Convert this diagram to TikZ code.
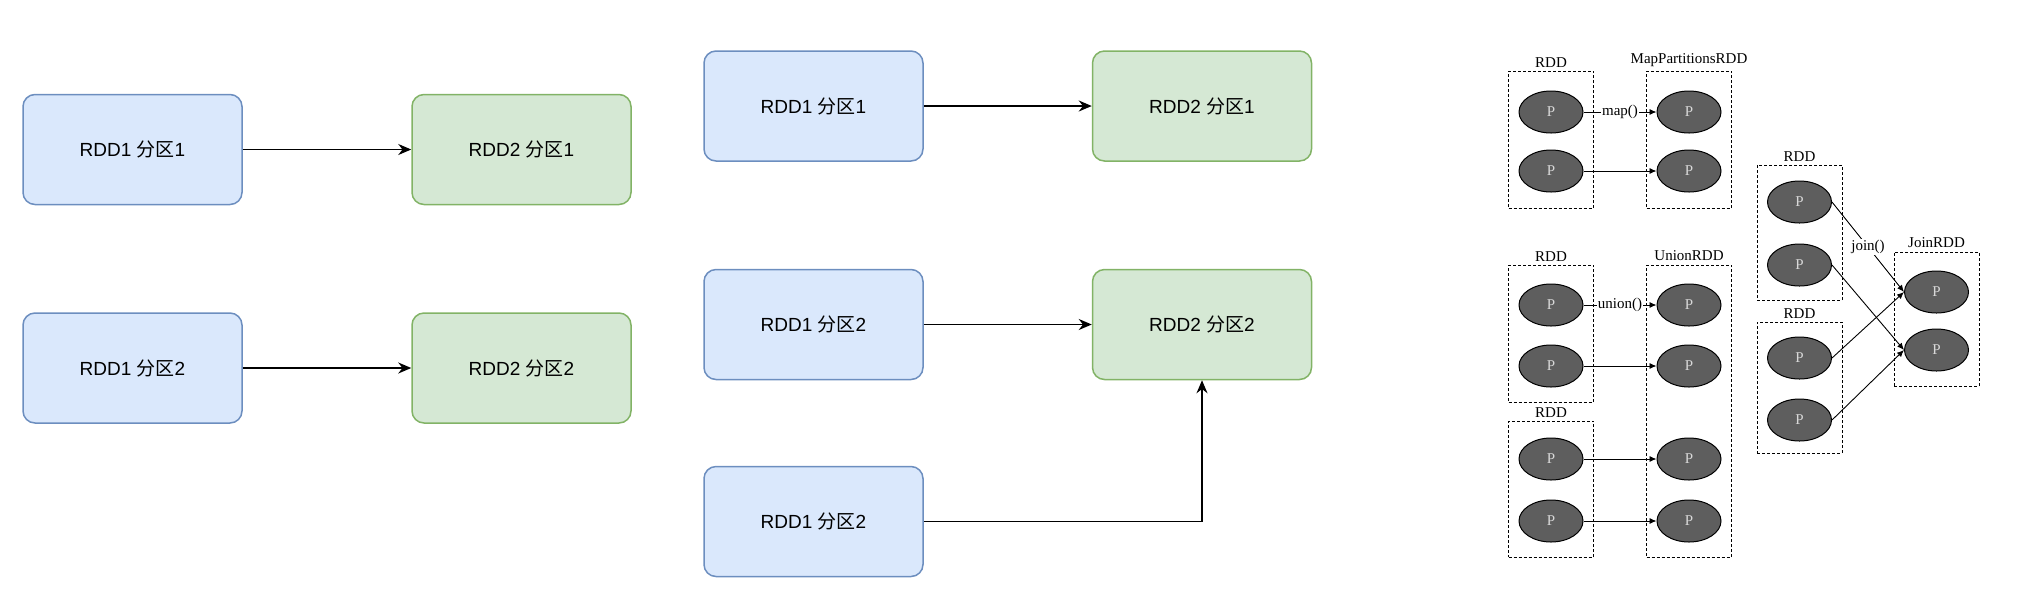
\documentclass[tikz,border=0pt]{standalone}
\usepackage{fontspec}
\setmainfont{Liberation Serif}
\newfontfamily\boxfont{Liberation Sans}
\newfontfamily\cjk{Noto Sans CJK SC}
\usetikzlibrary{arrows.meta,shapes.geometric}
\definecolor{bluefill}{HTML}{DAE8FC}
\definecolor{blueline}{HTML}{6C8EBF}
\definecolor{greenfill}{HTML}{D5E8D4}
\definecolor{greenline}{HTML}{82B366}
\definecolor{pgray}{HTML}{5E5E5E}
\definecolor{plight}{HTML}{D8D8D8}
\newcommand{\fenqu}[2]{#1 {\cjk 分区}#2}

\begin{document}
\begin{tikzpicture}[x=0.5pt,y=-0.5pt,
    src/.style={draw=blueline,fill=bluefill,line width=0.75pt,rounded corners=6pt,
      minimum width=109.5pt,minimum height=55pt,
      font=\boxfont\fontsize{9.5}{11}\selectfont},
    dst/.style={src,draw=greenline,fill=greenfill},
    flow/.style={-{Stealth[length=6.5pt,width=5.5pt]},line width=0.75pt},
    rddbox/.style={draw,dash pattern=on 1.5pt off 1pt,line width=0.5pt,
      minimum width=42.5pt,inner sep=0pt,
      label={[font=\fontsize{7.5}{8}\selectfont,inner sep=1.5pt]above:#1}},
    pnode/.style={ellipse,draw,fill=pgray,line width=0.5pt,minimum width=32pt,
      minimum height=21pt,inner sep=0pt,text=plight,font=\fontsize{7.5}{8}\selectfont},
    link/.style={-{Latex[length=3.5pt,width=3pt]},line width=0.45pt},
    op/.style={fill=white,inner sep=0.5pt,font=\fontsize{7.5}{8}\selectfont}]
  \useasboundingbox (0,0) rectangle (2018,612);

  % one to one
  \node[src] (a1) at (132.5,149.5) {\fenqu{RDD1}{1}};
  \node[dst] (b1) at (521.5,149.5) {\fenqu{RDD2}{1}};
  \node[src] (a2) at (132.5,368) {\fenqu{RDD1}{2}};
  \node[dst] (b2) at (521.5,368) {\fenqu{RDD2}{2}};
  \draw[flow] (a1) -- (b1);
  \draw[flow] (a2) -- (b2);

  % many to one
  \node[src] (c1) at (813.5,106) {\fenqu{RDD1}{1}};
  \node[dst] (d1) at (1202,106) {\fenqu{RDD2}{1}};
  \node[src] (c2) at (813.5,324.5) {\fenqu{RDD1}{2}};
  \node[dst] (d2) at (1202,324.5) {\fenqu{RDD2}{2}};
  \node[src] (c3) at (813.5,521.5) {\fenqu{RDD1}{2}};
  \draw[flow] (c1) -- (d1);
  \draw[flow] (c2) -- (d2);
  \draw[flow] (c3.east) -| (d2.south);

  % map
  \node[rddbox=RDD,minimum height=68.5pt] (rA) at (1551,139.5) {};
  \node[rddbox=MapPartitionsRDD,minimum height=68.5pt] (mA) at (1689,139.5) {};
  \node[pnode] (pA1) at (1551,112) {P};
  \node[pnode] (pA2) at (1551,171) {P};
  \node[pnode] (pM1) at (1689,112) {P};
  \node[pnode] (pM2) at (1689,171) {P};
  \draw[link] (pA1) -- node[op]{map()} (pM1);
  \draw[link] (pA2) -- (pM2);

  % union
  \node[rddbox=RDD,minimum height=68.5pt] (rB) at (1551,333.5) {};
  \node[rddbox=RDD,minimum height=68pt] (rC) at (1551,489) {};
  \node[rddbox=UnionRDD,minimum height=146pt] (uB) at (1689,411) {};
  \node[pnode] (pB1) at (1551,305) {P};
  \node[pnode] (pB2) at (1551,366) {P};
  \node[pnode] (pC1) at (1551,459) {P};
  \node[pnode] (pC2) at (1551,521) {P};
  \node[pnode] (pU1) at (1689,305) {P};
  \node[pnode] (pU2) at (1689,366) {P};
  \node[pnode] (pU3) at (1689,459) {P};
  \node[pnode] (pU4) at (1689,521) {P};
  \draw[link] (pB1) -- node[op]{union()} (pU1);
  \draw[link] (pB2) -- (pU2);
  \draw[link] (pC1) -- (pU3);
  \draw[link] (pC2) -- (pU4);

  % join
  \node[rddbox=RDD,minimum height=67.5pt] (rD) at (1799.5,232.5) {};
  \node[rddbox=RDD,minimum height=65.5pt] (rE) at (1799.5,387.5) {};
  \node[rddbox=JoinRDD,minimum height=67pt] (jB) at (1936.5,319) {};
  \node[pnode] (pD1) at (1799.5,202) {P};
  \node[pnode] (pD2) at (1799.5,265) {P};
  \node[pnode] (pE1) at (1799.5,358) {P};
  \node[pnode] (pE2) at (1799.5,420) {P};
  \node[pnode] (pJ1) at (1936.5,292) {P};
  \node[pnode] (pJ2) at (1936.5,350) {P};
  \draw[link] (pD1.east) -- node[op]{join()} (pJ1.west);
  \draw[link] (pD2.east) -- (pJ2.west);
  \draw[link] (pE1.east) -- (pJ1.west);
  \draw[link] (pE2.east) -- (pJ2.west);
\end{tikzpicture}
\end{document}
